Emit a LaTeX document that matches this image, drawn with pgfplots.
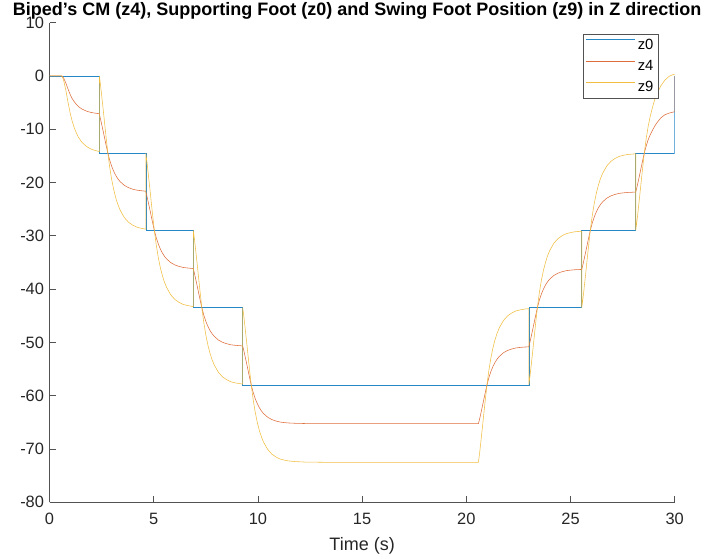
\documentclass[border=0pt]{standalone}
\usepackage{fontspec}
\setmainfont{Liberation Sans}
\usepackage{pgfplots}
\pgfplotsset{compat=1.18}
\definecolor{mblue}{rgb}{0,0.447,0.741}
\definecolor{mred}{rgb}{0.85,0.325,0.098}
\definecolor{myel}{rgb}{0.929,0.694,0.125}
\definecolor{axgray}{rgb}{0.15,0.15,0.15}
\begin{document}
\begin{tikzpicture}
\path[use as bounding box] (0,0) rectangle (709pt,559pt);
\begin{axis}[
  at={(49.5pt,56.7pt)}, anchor=south west,
  scale only axis, width=625.2pt, height=479.8pt,
  xmin=0, xmax=30, ymin=-80, ymax=10,
  axis x line*=bottom, axis y line*=left,
  axis line style={axgray!80, line width=0.6pt, -},
  every outer x axis line/.append style={-},
  every outer y axis line/.append style={-},
  xtick={0,5,...,30}, ytick={-80,-70,...,10},
  tick align=inside, major tick length=6.3pt,
  tick style={axgray!80, line width=0.6pt},
  /pgf/number format/assume math mode=true,
  ticklabel style={font=\fontsize{16.4}{19}\selectfont, text=axgray},
  xticklabel style={yshift=-7pt},
  yticklabel style={xshift=-2pt},
  title={Biped's CM (z4), Supporting Foot (z0) and Swing Foot Position (z9) in Z direction},
  title style={font=\bfseries\fontsize{18}{21}\selectfont, at={(axis description cs:0.5,1)}, anchor=base, yshift=1pt, xshift=-5pt},
  xlabel={Time (s)},
  xlabel style={font=\fontsize{18}{21}\selectfont, text=axgray, at={(axis description cs:0.5,0)}, anchor=center, yshift=-44pt},
  legend style={at={(rel axis cs:0.9744,0.9764)}, anchor=north east, draw=axgray!80, line width=0.6pt, fill=white, font=\fontsize{14.8}{17}\selectfont, inner xsep=3pt, inner ysep=3pt, row sep=5.5pt},
  legend cell align=left,
  legend image code/.code={\draw[#1, line width=0.6pt] (0pt,5.3pt) -- (49pt,5.3pt);},
]
\addplot[mblue!85, line width=0.55pt] coordinates {(0,0) (2.39,0) (2.39,-14.5) (4.62,-14.5) (4.62,-29) (6.90,-29) (6.90,-43.5) (9.27,-43.5) (9.27,-58) (23.00,-58) (23.00,-43.5) (25.54,-43.5) (25.54,-29) (28.13,-29) (28.13,-14.5) (30,-14.5) (30,0)};
\addlegendentry{z0}
\addplot[mred!85, line width=0.55pt] coordinates {
(0,0) (0.58,0) (0.63,-0.15) (0.68,-0.44) (0.78,-1.31) (0.88,-2.39) (0.99,-3.48) (1.08,-4.21) (1.18,-4.82) (1.28,-5.33) (1.38,-5.73) (1.48,-6.03) (1.58,-6.28) (1.78,-6.63) (1.98,-6.86) (2.18,-7.0) (2.39,-7.1)
(2.44,-7.98) (2.49,-8.85) (2.59,-10.66) (2.69,-12.54) (2.80,-14.5) (2.89,-15.83) (2.99,-17.04) (3.09,-17.99) (3.19,-18.76) (3.29,-19.37) (3.39,-19.85) (3.59,-20.55) (3.79,-20.98) (3.99,-21.26) (4.19,-21.45) (4.39,-21.55) (4.62,-21.64)
(4.67,-22.48) (4.72,-23.35) (4.82,-25.16) (4.92,-27.04) (5.03,-29) (5.12,-30.33) (5.22,-31.54) (5.32,-32.49) (5.42,-33.26) (5.52,-33.87) (5.62,-34.35) (5.82,-35.05) (6.02,-35.48) (6.22,-35.76) (6.42,-35.95) (6.62,-36.05) (6.90,-36.15)
(6.95,-36.98) (7.00,-37.85) (7.10,-39.66) (7.20,-41.54) (7.31,-43.5) (7.40,-44.83) (7.50,-46.04) (7.60,-46.99) (7.70,-47.76) (7.80,-48.37) (7.90,-48.85) (8.10,-49.55) (8.30,-49.98) (8.50,-50.26) (8.70,-50.45) (8.90,-50.55) (9.27,-50.66)
(9.32,-51.48) (9.37,-52.35) (9.47,-54.16) (9.57,-56.04) (9.68,-58) (9.77,-59.33) (9.87,-60.54) (9.97,-61.49) (10.07,-62.26) (10.17,-62.87) (10.27,-63.35) (10.47,-64.05) (10.67,-64.48) (10.87,-64.76) (11.07,-64.95) (11.27,-65.05) (11.47,-65.12) (11.8,-65.18) (12.3,-65.23) (13.3,-65.25) (20.58,-65.25)
(20.63,-64.52) (20.68,-63.65) (20.78,-61.84) (20.88,-59.96) (20.99,-58) (21.08,-56.67) (21.18,-55.46) (21.28,-54.51) (21.38,-53.74) (21.48,-53.13) (21.58,-52.65) (21.78,-51.95) (21.98,-51.52) (22.18,-51.24) (22.38,-51.05) (22.58,-50.95) (22.78,-50.88) (23.00,-50.84)
(23.05,-50.02) (23.10,-49.15) (23.20,-47.34) (23.30,-45.46) (23.41,-43.5) (23.50,-42.17) (23.60,-40.96) (23.70,-40.01) (23.80,-39.24) (23.90,-38.63) (24.00,-38.15) (24.20,-37.45) (24.40,-37.02) (24.60,-36.74) (24.80,-36.55) (25.00,-36.45) (25.20,-36.38) (25.54,-36.32)
(25.59,-35.52) (25.64,-34.65) (25.74,-32.84) (25.84,-30.96) (25.95,-29) (26.04,-27.67) (26.14,-26.46) (26.24,-25.51) (26.34,-24.74) (26.44,-24.13) (26.54,-23.65) (26.74,-22.95) (26.94,-22.52) (27.14,-22.24) (27.34,-22.05) (27.54,-21.95) (27.74,-21.88) (28.13,-21.81)
(28.18,-21.02) (28.23,-20.15) (28.33,-18.34) (28.43,-16.46) (28.54,-14.5) (28.63,-13.17) (28.73,-11.96) (28.83,-11.01) (28.93,-10.24) (29.03,-9.5) (29.13,-8.9) (29.33,-7.9) (29.53,-7.3) (29.73,-7.0) (29.93,-6.8) (30,-6.75) (30,0)};
\addlegendentry{z4}
\addplot[myel!85, line width=0.55pt] coordinates {
(0,0) (0.58,0) (0.63,-0.29) (0.68,-0.87) (0.78,-2.61) (0.88,-4.79) (0.99,-6.96) (1.08,-8.41) (1.18,-9.64) (1.28,-10.66) (1.38,-11.46) (1.48,-12.06) (1.58,-12.56) (1.78,-13.27) (1.98,-13.72) (2.18,-13.99) (2.39,-14.2)
(2.39,0) (2.44,-1.45) (2.49,-3.19) (2.59,-6.82) (2.69,-10.59) (2.80,-14.5) (2.89,-17.17) (2.99,-19.58) (3.09,-21.49) (3.19,-23.03) (3.29,-24.24) (3.39,-25.2) (3.59,-26.59) (3.79,-27.46) (3.99,-28.01) (4.19,-28.39) (4.39,-28.59) (4.62,-28.77)
(4.62,-14.5) (4.67,-15.95) (4.72,-17.69) (4.82,-21.32) (4.92,-25.09) (5.03,-29) (5.12,-31.67) (5.22,-34.08) (5.32,-35.99) (5.42,-37.53) (5.52,-38.74) (5.62,-39.7) (5.82,-41.09) (6.02,-41.96) (6.22,-42.51) (6.42,-42.89) (6.62,-43.09) (6.90,-43.29)
(6.90,-29) (6.95,-30.45) (7.00,-32.19) (7.10,-35.82) (7.20,-39.59) (7.31,-43.5) (7.40,-46.17) (7.50,-48.58) (7.60,-50.49) (7.70,-52.03) (7.80,-53.24) (7.90,-54.2) (8.10,-55.59) (8.30,-56.46) (8.50,-57.01) (8.70,-57.39) (8.90,-57.59) (9.27,-57.83)
(9.27,-43.5) (9.32,-44.95) (9.37,-46.69) (9.47,-50.32) (9.57,-54.09) (9.68,-58) (9.77,-60.67) (9.87,-63.08) (9.97,-64.99) (10.07,-66.53) (10.17,-67.74) (10.27,-68.7) (10.47,-70.09) (10.67,-70.96) (10.87,-71.51) (11.07,-71.89) (11.27,-72.09) (11.47,-72.24) (11.8,-72.36) (12.3,-72.46) (13.3,-72.5) (20.58,-72.5)
(20.63,-71.05) (20.68,-69.31) (20.78,-65.68) (20.88,-61.91) (20.99,-58) (21.08,-55.33) (21.18,-52.92) (21.28,-51.01) (21.38,-49.47) (21.48,-48.26) (21.58,-47.3) (21.78,-45.91) (21.98,-45.04) (22.18,-44.49) (22.38,-44.11) (22.58,-43.91) (22.78,-43.76) (23.00,-43.67)
(23.00,-58) (23.05,-56.55) (23.10,-54.81) (23.20,-51.18) (23.30,-47.41) (23.41,-43.5) (23.50,-40.83) (23.60,-38.42) (23.70,-36.51) (23.80,-34.97) (23.90,-33.76) (24.00,-32.8) (24.20,-31.41) (24.40,-30.54) (24.60,-29.99) (24.80,-29.61) (25.00,-29.41) (25.20,-29.26) (25.54,-29.14)
(25.54,-43.5) (25.59,-42.05) (25.64,-40.31) (25.74,-36.68) (25.84,-32.91) (25.95,-29) (26.04,-26.33) (26.14,-23.92) (26.24,-22.01) (26.34,-20.47) (26.44,-19.26) (26.54,-18.3) (26.74,-16.91) (26.94,-16.04) (27.14,-15.49) (27.34,-15.11) (27.54,-14.91) (27.74,-14.76) (28.13,-14.63)
(28.13,-29) (28.18,-27.55) (28.23,-25.81) (28.33,-22.18) (28.43,-18.41) (28.54,-14.5) (28.63,-11.83) (28.73,-9.42) (28.83,-7.51) (28.93,-5.97) (29.03,-4.6) (29.13,-3.5) (29.33,-1.9) (29.53,-0.8) (29.73,-0.1) (29.93,0.25) (30,0.3)};
\addlegendentry{z9}
\end{axis}
\end{tikzpicture}
\end{document}
